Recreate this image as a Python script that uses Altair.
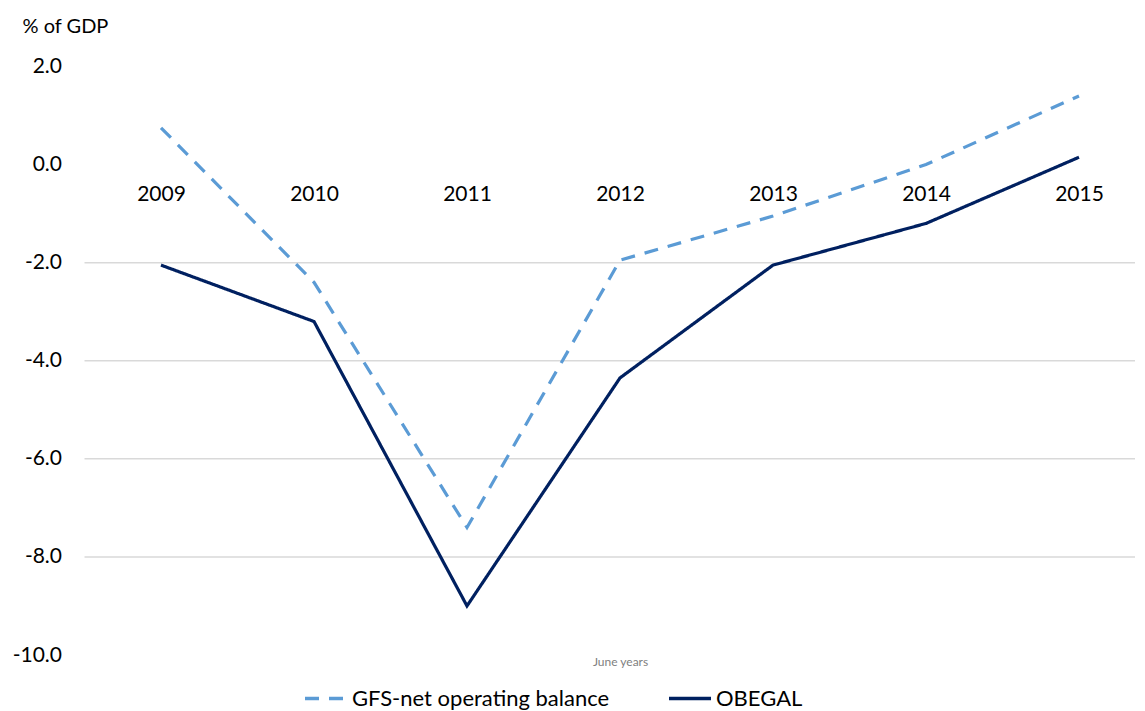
import altair as alt
import pandas as pd

years = [2009, 2010, 2011, 2012, 2013, 2014, 2015]
gfs = [0.75, -2.4, -7.4, -1.95, -1.05, 0.0, 1.4]
obegal = [-2.05, -3.2, -9.0, -4.35, -2.05, -1.2, 0.15]
series_names = ["GFS-net operating balance", "OBEGAL"]
y_ticks = [2.0, 0.0, -2.0, -4.0, -6.0, -8.0, -10.0]
grid_values = [-2.0, -4.0, -6.0, -8.0]

rows = []
for y, v in zip(years, gfs):
    rows.append({"year": y, "value": v, "series": series_names[0]})
for y, v in zip(years, obegal):
    rows.append({"year": y, "value": v, "series": series_names[1]})
df = pd.DataFrame(rows)
grid_df = pd.DataFrame({"g": grid_values})

FONT = "Lato, sans-serif"
W = 1050
H = 588.5
x_scale = alt.Scale(domain=[2008.5, 2008.5 + W / 153.0], nice=False, zero=False)
y_scale = alt.Scale(domain=[-10, 2], nice=False, zero=False)

y_axis = alt.Axis(
    values=y_ticks,
    labelExpr="replace(format(datum.value, '.1f'), '\u2212', '-')",
    labelFontSize=21,
    labelFont=FONT,
    labelColor="#000000",
    labelPadding=23,
    ticks=False,
    domain=False,
    grid=False,
    title="% of GDP",
    titleFont=FONT,
    titleFontSize=20,
    titleFontWeight="normal",
    titleColor="#000000",
    titleAngle=0,
    titleAlign="left",
    titleBaseline="middle",
    titleX=-62.5,
    titleY=-40,
)

legend_cfg = dict(
    title=None,
    orient="none",
    legendX=218.5,
    legendY=609,
    direction="horizontal",
    symbolType="stroke",
    symbolSize=1764,
    symbolStrokeWidth=3.5,
    labelFontSize=22,
    labelFont=FONT,
    labelColor="#000000",
    labelOffset=3,
    labelLimit=500,
    columnPadding=52,
)

grid = alt.Chart(grid_df).mark_rule(color="#d9d9d9", strokeWidth=1.5).encode(
    y=alt.Y("g:Q", scale=y_scale, axis=y_axis),
    x=alt.value(0),
    x2=alt.value(W + 20),
)

lines = alt.Chart(df).mark_line(strokeWidth=3.2).encode(
    x=alt.X(
        "year:Q",
        scale=x_scale,
        axis=alt.Axis(
            values=years,
            format="d",
            orient="bottom",
            offset=-(H - 2 * H / 12.0),
            labelFontSize=21,
            labelFont=FONT,
            labelColor="#000000",
            labelPadding=19,
            labelFlush=False,
            ticks=False,
            domain=False,
            grid=False,
            title="June years",
            titleFont=FONT,
            titleFontSize=12,
            titleFontWeight="normal",
            titleColor="#808080",
            titleX=535.5,
            titleY=497,
            titleBaseline="middle",
        ),
    ),
    y=alt.Y("value:Q", scale=y_scale, axis=y_axis),
    color=alt.Color(
        "series:N",
        scale=alt.Scale(domain=series_names, range=["#5b9bd5", "#002060"]),
        legend=alt.Legend(**legend_cfg),
    ),
    strokeDash=alt.StrokeDash(
        "series:N",
        scale=alt.Scale(domain=series_names, range=[[14, 10], [1, 0]]),
        legend=alt.Legend(**legend_cfg),
    ),
)

chart = (
    alt.layer(grid, lines)
    .properties(
        width=W,
        height=H,
        autosize=alt.AutoSizeParams(type="none"),
        padding={"left": 76.5, "top": 58.5, "right": 0, "bottom": 56},
        background="white",
    )
    .configure_view(stroke=None)
)

chart.save("out.html", embed_options={"renderer": "svg", "actions": False})
